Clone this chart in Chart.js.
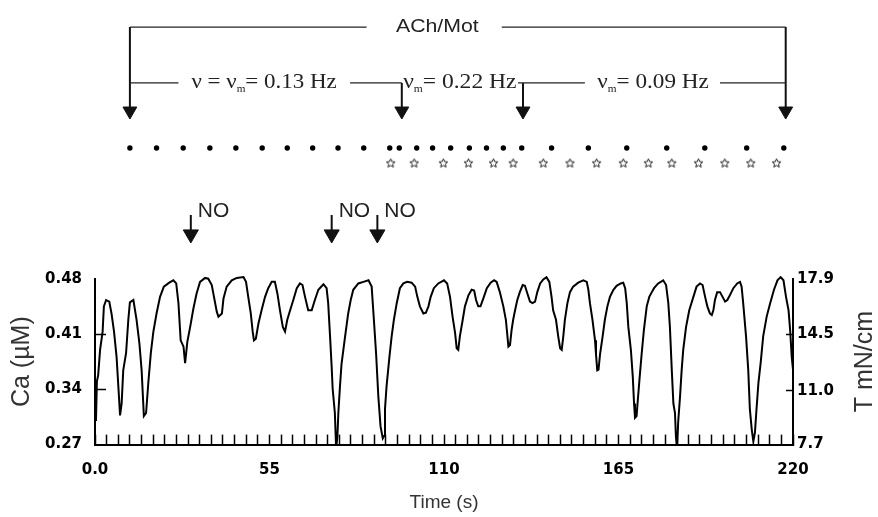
<!DOCTYPE html>
<html>
<head>
<meta charset="utf-8">
<script src="https://cdn.jsdelivr.net/npm/chart.js@4.4.1/dist/chart.umd.min.js"></script>
<style>
html,body{margin:0;padding:0;background:#fff;}
#lienzo{position:relative;width:878px;height:517px;}
#lienzo canvas{position:absolute;left:0;top:0;}
</style>
</head>
<body>
<div id="lienzo">
<canvas id="traza" width="878" height="517"></canvas>
<canvas id="eventos" width="878" height="517"></canvas>
</div>
<script>
// registro de Ca (uM) frente al tiempo (s)
const tiempo = [
  0.3,0.6,1.0,1.6,2.4,2.8,3.5,4.5,5.2,6.0,
  6.8,7.4,7.9,8.4,8.9,9.8,10.5,11.0,12.1,13.1,
  14.0,14.7,15.4,16.1,16.8,17.6,18.4,19.4,20.5,21.7,
  23.4,24.7,25.6,26.3,27.0,27.9,28.4,29.1,30.0,31.0,
  32.0,33.1,34.7,35.7,36.8,37.5,38.4,38.9,40.0,40.5,
  41.5,43.1,44.7,46.8,47.6,48.3,49.1,49.7,50.1,50.7,
  51.5,52.5,53.6,54.6,55.7,56.7,57.5,58.3,59.2,59.9,
  60.6,61.5,62.5,63.6,64.6,65.4,66.2,67.2,68.3,69.3,
  70.4,72.0,73.0,73.5,74.1,74.6,74.9,75.6,76.0,76.4,
  76.7,77.2,77.7,78.8,79.8,80.6,81.4,83.0,84.6,86.2,
  87.2,87.9,88.6,89.3,90.0,90.7,91.1,91.4,91.9,92.8,
  93.5,94.2,95.1,96.1,97.2,98.4,99.8,100.9,101.6,102.4,
  103.5,104.3,105.1,105.8,106.8,108.2,110.0,111.0,111.9,112.7,
  113.5,114.0,114.5,115.0,115.9,116.6,117.7,118.7,119.5,120.1,
  120.8,121.5,122.4,123.5,124.7,125.8,126.6,127.6,128.7,129.5,
  129.9,130.3,130.8,131.3,131.8,132.4,133.1,133.9,134.8,135.5,
  136.3,137.1,137.9,138.7,139.4,140.3,141.3,142.3,143.2,143.9,
  144.4,145.3,146.0,146.6,147.1,147.6,148.1,148.9,149.7,150.7,
  152.3,153.9,155.0,155.5,156.0,156.8,157.6,157.9,158.3,158.7,
  159.2,160.0,160.7,161.5,162.3,163.4,164.4,165.7,166.5,167.1,
  167.6,168.1,168.9,169.5,169.9,170.2,170.7,171.0,171.6,172.3,
  173.0,173.9,174.7,175.5,176.2,177.5,179.1,180.0,180.7,181.2,
  181.8,182.3,182.8,183.1,183.5,183.8,184.4,184.9,185.4,186.3,
  187.3,188.6,189.6,190.7,191.5,192.3,193.0,193.8,194.4,194.9,
  195.4,196.1,197.0,197.8,198.6,199.3,200.1,201.2,202.4,203.3,
  203.8,204.3,205.2,205.9,206.4,207.0,207.5,208.0,208.5,209.1,
  209.8,210.6,211.7,212.8,214.0,215.1,216.1,217.0,217.8,218.6,
  219.1,219.6,220.0
];
const calcio = [
  0.300,0.350,0.358,0.390,0.413,0.445,0.453,0.451,0.436,0.413,
  0.381,0.341,0.307,0.322,0.364,0.386,0.428,0.450,0.453,0.428,
  0.398,0.364,0.306,0.310,0.348,0.386,0.413,0.436,0.457,0.470,
  0.475,0.478,0.474,0.449,0.402,0.394,0.373,0.400,0.419,0.442,
  0.461,0.476,0.481,0.480,0.472,0.457,0.438,0.432,0.436,0.455,
  0.470,0.478,0.481,0.482,0.476,0.457,0.436,0.413,0.402,0.404,
  0.423,0.440,0.457,0.468,0.476,0.476,0.461,0.440,0.419,0.413,
  0.428,0.440,0.453,0.468,0.474,0.472,0.457,0.440,0.440,0.453,
  0.466,0.473,0.468,0.449,0.406,0.368,0.341,0.310,0.265,0.280,
  0.310,0.343,0.372,0.406,0.436,0.453,0.466,0.474,0.476,0.478,
  0.470,0.428,0.385,0.331,0.293,0.278,0.281,0.315,0.344,0.381,
  0.407,0.428,0.449,0.468,0.474,0.476,0.475,0.470,0.457,0.445,
  0.436,0.437,0.445,0.457,0.468,0.474,0.478,0.474,0.457,0.432,
  0.411,0.392,0.390,0.407,0.428,0.445,0.459,0.466,0.465,0.453,
  0.445,0.445,0.455,0.468,0.475,0.478,0.476,0.463,0.445,0.428,
  0.411,0.394,0.396,0.415,0.428,0.440,0.453,0.463,0.472,0.471,
  0.461,0.451,0.449,0.451,0.463,0.474,0.479,0.482,0.476,0.457,
  0.440,0.428,0.407,0.392,0.390,0.407,0.428,0.449,0.463,0.470,
  0.475,0.478,0.476,0.466,0.449,0.428,0.402,0.385,0.364,0.365,
  0.385,0.407,0.428,0.445,0.457,0.466,0.471,0.474,0.475,0.468,
  0.449,0.419,0.390,0.356,0.322,0.304,0.306,0.322,0.352,0.385,
  0.415,0.445,0.457,0.463,0.468,0.474,0.478,0.472,0.449,0.419,
  0.364,0.322,0.310,0.280,0.266,0.298,0.331,0.364,0.390,0.419,
  0.440,0.457,0.470,0.474,0.472,0.457,0.445,0.436,0.434,0.440,
  0.453,0.463,0.463,0.457,0.451,0.453,0.459,0.468,0.474,0.476,
  0.470,0.449,0.407,0.364,0.315,0.289,0.274,0.285,0.315,0.348,
  0.373,0.407,0.432,0.449,0.466,0.478,0.482,0.478,0.457,0.440,
  0.415,0.381,0.365
];

// ejes
const ticksCa = [0.27, 0.34, 0.41, 0.48];
const ticksT = [7.7, 11.0, 14.5, 17.9];
const etiquetasX = [0, 55, 110, 165, 220];
const divisionesX = 60; // marcas cortas sobre el eje del tiempo

// eventos de la parte superior
const tiemposPunto = [11.0,19.4,27.8,36.2,44.4,52.7,60.6,68.6,76.6,84.7,92.9,95.9,101.4,106.4,112.1,118.0,123.4,128.7,134.5,143.9,155.5,167.6,180.2,192.2,205.4,217.1];
const tiemposEstrella = [93.2,100.6,109.8,117.7,125.6,131.8,141.3,149.7,158.1,166.5,174.4,181.8,190.2,198.5,206.7,214.8];
const tiemposACh = [11.0, 96.7, 134.9, 217.7];
const tiemposNO = [30.2, 74.6, 89.0];
const tramosExterno = [[11.0, 85.6], [128.2, 217.7]];
const tramosInterno = [[11.0, 26.3], [80.4, 96.7], [133.3, 154.4], [197.0, 217.7]];

// alturas de cada fila en el panel de eventos (0 abajo, 10 arriba)
const NIVEL = {externo: 8.96, interno: 6.81, puntaACh: 5.73, puntos: 4.31, estrellas: 3.73, inicioNO: 1.73, puntaNO: 0.99, textoNO: 1.85};

const SANS = 'Liberation Sans, Arial, sans-serif';
const SERIF = 'Liberation Serif, Times New Roman, serif';
const fuenteTicks = {family: 'DejaVu Sans', size: 15, weight: 'bold'};

function formatoX(v) {
  const e = etiquetasX.find(l => Math.abs(l - v) < 1e-6);
  if (e === undefined) return '';
  return e === 0 ? '0.0' : String(e);
}

// titulo del eje derecho, girado como el izquierdo
const tituloDerecho = {
  id: 'tituloDerecho',
  afterDraw(chart) {
    const c = chart.ctx, a = chart.chartArea, s = chart.scales.y1;
    c.save();
    c.translate(s.right - 13, (a.top + a.bottom) / 2);
    c.rotate(-Math.PI / 2);
    c.font = '25px ' + SANS;
    c.fillStyle = '#333';
    c.textAlign = 'center';
    c.textBaseline = 'middle';
    c.fillText('T mN/cm', 0, 0);
    c.restore();
  }
};

var ctx = document.getElementById('traza').getContext('2d');
var graficoCa = new Chart(ctx, {
  type: 'scatter',
  data: {
    datasets: [{
      label: 'Ca',
      data: tiempo.map((t, i) => ({x: t, y: calcio[i]})),
      showLine: true,
      borderColor: '#000',
      borderWidth: 2,
      pointRadius: 0,
      tension: 0,
      clip: {left: 0, right: 0, top: 3, bottom: 0}
    }]
  },
  options: {
    responsive: false,
    animation: false,
    events: [],
    layout: {padding: {top: 278.7, left: 0, right: 0, bottom: 0}},
    plugins: {legend: {display: false}, tooltip: {enabled: false}},
    scales: {
      x: {
        type: 'linear', min: 0, max: 220,
        afterBuildTicks: s => { s.ticks = Array.from({length: divisionesX + 1}, (_, i) => ({value: i * 220 / divisionesX})); },
        afterFit: s => { s.height = 72.4; },
        border: {color: '#000', width: 2},
        grid: {drawOnChartArea: false, drawTicks: true, tickLength: -10, tickColor: '#000', tickWidth: 1.5},
        ticks: {autoSkip: false, maxRotation: 0, padding: 27, color: '#000', font: fuenteTicks, callback: v => formatoX(v)},
        title: {display: true, text: 'Time (s)', color: '#333', font: {family: SANS, size: 19}, padding: {top: 0, bottom: 3}}
      },
      y: {
        position: 'left', min: 0.27, max: 0.48,
        afterBuildTicks: s => { s.ticks = ticksCa.map(v => ({value: v})); },
        afterFit: s => { s.width = 95; },
        border: {color: '#000', width: 2},
        grid: {drawOnChartArea: false, drawTicks: true, tickLength: -11, tickWidth: 1.5,
               tickColor: c => (c.tick && (c.tick.value === 0.34 || c.tick.value === 0.41)) ? '#000' : 'rgba(0,0,0,0)'},
        ticks: {padding: 24, color: '#000', font: fuenteTicks, callback: v => v.toFixed(2)},
        title: {display: true, text: 'Ca (\u00b5M)', color: '#333', font: {family: SANS, size: 25}, padding: {top: 7, bottom: 0}}
      },
      y1: {
        position: 'right', min: 7.7, max: 17.9,
        afterBuildTicks: s => { s.ticks = ticksT.map(v => ({value: v})); },
        afterFit: s => { s.width = 85; },
        border: {color: '#000', width: 2},
        grid: {drawOnChartArea: false, drawTicks: true, tickLength: -7, tickWidth: 1.5,
               tickColor: c => (c.tick && (c.tick.value === 11.0 || c.tick.value === 14.5)) ? '#000' : 'rgba(0,0,0,0)'},
        ticks: {padding: 11, color: '#000', font: fuenteTicks, callback: v => v.toFixed(1)}
      }
    }
  },
  plugins: [tituloDerecho]
});

// estrella hueca para los estimulos
function crearEstrella() {
  const cv = document.createElement('canvas');
  cv.width = 11; cv.height = 11;
  const g = cv.getContext('2d');
  g.beginPath();
  for (let i = 0; i < 10; i++) {
    const r = i % 2 ? 2.1 : 4.6;
    const a = -Math.PI / 2 + i * Math.PI / 5;
    g.lineTo(5.5 + r * Math.cos(a), 5.8 + r * Math.sin(a));
  }
  g.closePath();
  g.lineWidth = 1;
  g.strokeStyle = '#222';
  g.stroke();
  return cv;
}

function flecha(t, arriba, punta, radio) {
  return {
    data: [{x: t, y: arriba}, {x: t, y: punta}],
    showLine: true,
    borderColor: '#111',
    borderWidth: 2,
    pointRadius: [0, radio],
    pointStyle: 'triangle',
    pointRotation: 180,
    pointBackgroundColor: '#111',
    pointBorderColor: '#111',
    pointBorderWidth: 1
  };
}

function tramo(par, nivel) {
  return {
    data: [{x: par[0], y: nivel}, {x: par[1], y: nivel}],
    showLine: true,
    borderColor: '#222',
    borderWidth: 1.3,
    pointRadius: 0
  };
}

// texto con subindice, estirado en horizontal como el original
function escribir(c, partes, cx, cy, estiramiento, alinear) {
  c.save();
  let ancho = 0;
  partes.forEach(p => { c.font = p.f; p.w = c.measureText(p.t).width; ancho += p.w; });
  c.translate(cx, cy);
  c.scale(estiramiento, 1);
  let x = alinear === 'left' ? 0 : -ancho / 2;
  c.fillStyle = '#222';
  c.textBaseline = 'middle';
  partes.forEach(p => { c.font = p.f; c.fillText(p.t, x, p.dy || 0); x += p.w; });
  c.restore();
}

const rotulos = {
  id: 'rotulos',
  afterDatasetsDraw(chart) {
    const c = chart.ctx, sx = chart.scales.x, sy = chart.scales.y;
    const px = t => sx.getPixelForValue(t), py = v => sy.getPixelForValue(v);
    const grande = '20.5px ' + SERIF, sub = '10px ' + SERIF;
    escribir(c, [{t: 'ACh/Mot', f: '18.5px ' + SANS}], px(107.9), py(NIVEL.externo), 1.15);
    escribir(c, [{t: '\u03bd = \u03bd', f: grande}, {t: 'm', f: sub, dy: 6}, {t: '= 0.13 Hz', f: grande}], px(53.3), py(NIVEL.interno), 1.12);
    escribir(c, [{t: '\u03bd', f: grande}, {t: 'm', f: sub, dy: 6}, {t: '= 0.22 Hz', f: grande}], px(115.0), py(NIVEL.interno), 1.15);
    escribir(c, [{t: '\u03bd', f: grande}, {t: 'm', f: sub, dy: 6}, {t: '= 0.09 Hz', f: grande}], px(175.9), py(NIVEL.interno), 1.13);
    tiemposNO.forEach(t => escribir(c, [{t: 'NO', f: '20px ' + SANS}], px(t) + 7, py(NIVEL.textoNO), 1.05, 'left'));
  }
};

var ctx2 = document.getElementById('eventos').getContext('2d');
var graficoEventos = new Chart(ctx2, {
  type: 'scatter',
  data: {
    datasets: [
      ...tramosExterno.map(p => tramo(p, NIVEL.externo)),
      ...tramosInterno.map(p => tramo(p, NIVEL.interno)),
      ...tiemposACh.map((t, i) => flecha(t, (i === 0 || i === tiemposACh.length - 1) ? NIVEL.externo : NIVEL.interno, NIVEL.puntaACh, 8)),
      ...tiemposNO.map(t => flecha(t, NIVEL.inicioNO, NIVEL.puntaNO, 8.7)),
      {
        label: 'Ca spikes',
        data: tiemposPunto.map(t => ({x: t, y: NIVEL.puntos})),
        pointRadius: 2.7,
        pointBackgroundColor: '#000',
        pointBorderWidth: 0
      },
      {
        label: 'Contracciones',
        data: tiemposEstrella.map(t => ({x: t, y: NIVEL.estrellas})),
        pointStyle: crearEstrella()
      }
    ]
  },
  options: {
    responsive: false,
    animation: false,
    events: [],
    layout: {autoPadding: false, padding: {top: 0, left: 95, right: 85, bottom: 257}},
    plugins: {legend: {display: false}, tooltip: {enabled: false}},
    scales: {
      x: {type: 'linear', min: 0, max: 220, display: false},
      y: {min: 0, max: 10, display: false}
    }
  },
  plugins: [rotulos]
});
</script>
</body>
</html>
